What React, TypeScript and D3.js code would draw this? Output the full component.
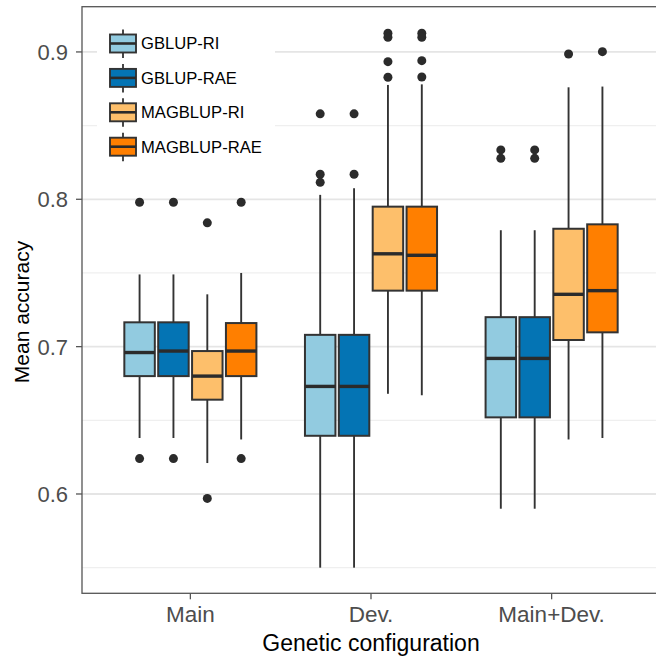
import React from "react";
import * as d3 from "d3";

const categories = ["Main", "Dev.", "Main+Dev."];
const series = ["GBLUP-RI", "GBLUP-RAE", "MAGBLUP-RI", "MAGBLUP-RAE"];
const palette = ["#92cbe0", "#0474b4", "#fdbf6b", "#ff7f00"];

// one row per category, one value per series
const whiskerLow = [
  [0.638, 0.638, 0.621, 0.637],
  [0.55, 0.55, 0.668, 0.667],
  [0.59, 0.59, 0.637, 0.638],
];
const q1 = [
  [0.68, 0.68, 0.664, 0.68],
  [0.6395, 0.6395, 0.738, 0.738],
  [0.652, 0.652, 0.7045, 0.7097],
];
const medians = [
  [0.696, 0.697, 0.68, 0.697],
  [0.673, 0.673, 0.763, 0.762],
  [0.692, 0.692, 0.7355, 0.738],
];
const q3 = [
  [0.7165, 0.7165, 0.697, 0.716],
  [0.708, 0.708, 0.795, 0.795],
  [0.72, 0.72, 0.78, 0.783],
];
const whiskerHigh = [
  [0.749, 0.749, 0.7355, 0.75],
  [0.803, 0.8075, 0.8776, 0.878],
  [0.779, 0.779, 0.876, 0.8765],
];
const outliers = [
  [[0.798, 0.624], [0.798, 0.624], [0.784, 0.597], [0.798, 0.624]],
  [
    [0.858, 0.817, 0.8115],
    [0.858, 0.817],
    [0.9127, 0.91, 0.8934, 0.8828],
    [0.9127, 0.91, 0.8941, 0.883],
  ],
  [[0.8335, 0.8278], [0.8335, 0.8278], [0.8986], [0.9002]],
];
const yTicks = [0.6, 0.7, 0.8, 0.9];
const yMinor = [0.55, 0.65, 0.75, 0.85];

const W = 656;
const H = 657;
const FONT = "'Liberation Sans', Arial, Helvetica, sans-serif";

const App = () => {
  const svgRef = React.useRef<SVGSVGElement>(null);

  React.useEffect(() => {
    const svg = d3.select(svgRef.current);
    svg.selectAll("*").remove();

    const left = 82;
    const right = 660;
    const top = 6.7;
    const bottom = 593.3;

    const x = d3.scalePoint<string>().domain(categories).range([left, right]).padding(0.6);
    const y = d3.scaleLinear().domain([0.5326, 0.9307]).range([bottom, top]);
    const step = x.step();
    const dodge = d3
      .scaleBand<string>()
      .domain(series)
      .range([-step * 0.375, step * 0.375])
      .paddingInner(0.1)
      .paddingOuter(0.05);

    // grid
    const grid = svg.append("g");
    grid
      .selectAll("line.minor")
      .data(yMinor)
      .join("line")
      .attr("x1", left)
      .attr("x2", right)
      .attr("y1", (d) => y(d))
      .attr("y2", (d) => y(d))
      .attr("stroke", "#efefef")
      .attr("stroke-width", 1.3);
    grid
      .selectAll("line.major")
      .data(yTicks)
      .join("line")
      .attr("x1", left)
      .attr("x2", right)
      .attr("y1", (d) => y(d))
      .attr("y2", (d) => y(d))
      .attr("stroke", "#e5e5e5")
      .attr("stroke-width", 1.8);

    // legend background hides the grid behind it
    svg
      .append("rect")
      .attr("x", 97)
      .attr("y", 20)
      .attr("width", 178)
      .attr("height", 146)
      .attr("fill", "white");

    const boxes = categories.flatMap((c, ci) =>
      series.map((s, si) => ({
        c,
        s,
        si,
        lo: whiskerLow[ci][si],
        q1: q1[ci][si],
        med: medians[ci][si],
        q3: q3[ci][si],
        hi: whiskerHigh[ci][si],
        out: outliers[ci][si],
      }))
    );

    const bw = dodge.bandwidth();
    const g = svg
      .append("g")
      .selectAll("g")
      .data(boxes)
      .join("g")
      .attr("transform", (d) => `translate(${(x(d.c) as number) + (dodge(d.s) as number)},0)`);

    g.append("line")
      .attr("x1", bw / 2)
      .attr("x2", bw / 2)
      .attr("y1", (d) => y(d.hi))
      .attr("y2", (d) => y(d.q3))
      .attr("stroke", "#333")
      .attr("stroke-width", 1.9);
    g.append("line")
      .attr("x1", bw / 2)
      .attr("x2", bw / 2)
      .attr("y1", (d) => y(d.q1))
      .attr("y2", (d) => y(d.lo))
      .attr("stroke", "#333")
      .attr("stroke-width", 1.9);
    g.append("rect")
      .attr("x", 0)
      .attr("width", bw)
      .attr("y", (d) => y(d.q3))
      .attr("height", (d) => y(d.q1) - y(d.q3))
      .attr("fill", (d) => palette[d.si])
      .attr("stroke", "#333")
      .attr("stroke-width", 2);
    g.append("line")
      .attr("x1", 0)
      .attr("x2", bw)
      .attr("y1", (d) => y(d.med))
      .attr("y2", (d) => y(d.med))
      .attr("stroke", "#2b2b2b")
      .attr("stroke-width", 3.4);
    g.selectAll("circle")
      .data((d) => d.out)
      .join("circle")
      .attr("cx", bw / 2)
      .attr("cy", (d) => y(d))
      .attr("r", 4.5)
      .attr("fill", "#2b2b2b");

    // panel border
    svg
      .append("rect")
      .attr("x", left)
      .attr("y", top)
      .attr("width", right - left)
      .attr("height", bottom - top)
      .attr("fill", "none")
      .attr("stroke", "#555")
      .attr("stroke-width", 1.3);

    // y axis
    const ya = svg.append("g");
    ya.selectAll("line")
      .data(yTicks)
      .join("line")
      .attr("x1", left - 6)
      .attr("x2", left)
      .attr("y1", (d) => y(d))
      .attr("y2", (d) => y(d))
      .attr("stroke", "#555")
      .attr("stroke-width", 1.3);
    ya.selectAll("text")
      .data(yTicks)
      .join("text")
      .attr("x", left - 14)
      .attr("y", (d) => y(d))
      .attr("dy", "0.36em")
      .attr("text-anchor", "end")
      .attr("font-family", FONT)
      .attr("font-size", 22)
      .attr("fill", "#4d4d4d")
      .text((d) => d3.format(".1f")(d));

    // x axis
    const xa = svg.append("g");
    xa.selectAll("line")
      .data(categories)
      .join("line")
      .attr("x1", (d) => x(d) as number)
      .attr("x2", (d) => x(d) as number)
      .attr("y1", bottom)
      .attr("y2", bottom + 6)
      .attr("stroke", "#555")
      .attr("stroke-width", 1.3);
    xa.selectAll("text")
      .data(categories)
      .join("text")
      .attr("x", (d) => x(d) as number)
      .attr("y", 621.5)
      .attr("text-anchor", "middle")
      .attr("font-family", FONT)
      .attr("font-size", 22.5)
      .attr("fill", "#4d4d4d")
      .text((d) => d);

    svg
      .append("text")
      .attr("x", (left + right) / 2)
      .attr("y", 650.5)
      .attr("text-anchor", "middle")
      .attr("font-family", FONT)
      .attr("font-size", 23)
      .attr("fill", "black")
      .text("Genetic configuration");

    svg
      .append("text")
      .attr("transform", `translate(29,${(top + bottom) / 2 + 12}) rotate(-90)`)
      .attr("text-anchor", "middle")
      .attr("font-family", FONT)
      .attr("font-size", 21)
      .attr("fill", "black")
      .text("Mean accuracy");

    // legend
    const lg = svg
      .append("g")
      .selectAll("g")
      .data(series)
      .join("g")
      .attr("transform", (d, i) => `translate(110,${43.5 + i * 34.4})`);
    lg.append("line")
      .attr("x1", 13)
      .attr("x2", 13)
      .attr("y1", -14)
      .attr("y2", 14.5)
      .attr("stroke", "#333")
      .attr("stroke-width", 1.8);
    lg.append("rect")
      .attr("x", 0)
      .attr("y", -9)
      .attr("width", 26)
      .attr("height", 18)
      .attr("fill", (d, i) => palette[i])
      .attr("stroke", "#333")
      .attr("stroke-width", 1.9);
    lg.append("line")
      .attr("x1", 0)
      .attr("x2", 26)
      .attr("y1", 0)
      .attr("y2", 0)
      .attr("stroke", "#2b2b2b")
      .attr("stroke-width", 2.6);
    lg.append("text")
      .attr("x", 31)
      .attr("y", 0)
      .attr("dy", "0.36em")
      .attr("font-family", FONT)
      .attr("font-size", 16.6)
      .attr("fill", "black")
      .text((d) => d);
  }, []);

  return (
    <svg
      ref={svgRef}
      width={W}
      height={H}
      style={{ position: "absolute", left: 0, top: 0, background: "white" }}
    />
  );
};

export default App;
